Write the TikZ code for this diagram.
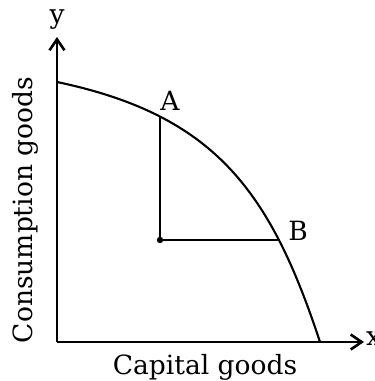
\documentclass[tikz,border=0pt]{standalone}
\usepackage{fontspec}
\setmainfont{DejaVu Serif}
\usetikzlibrary{arrows.meta}
\begin{document}
\begin{tikzpicture}[x=1pt,y=-1pt,
  axis/.style={line width=2.8pt,-{Straight Barb[length=11pt,width=15pt,line width=2.6pt]}},
  lbl/.style={font=\fontsize{26.5}{30}\selectfont, inner sep=0pt},
  ppf/.style={line width=2.1pt},
  guide/.style={line width=2pt}]
\useasboundingbox (0,0) rectangle (375,381);
\coordinate (O) at (57,342);
\coordinate (ytop) at (57,37);
\coordinate (xend) at (364,342);
\coordinate (P0) at (57,82);
\coordinate (P3) at (320,342);
\coordinate (A) at (160,117);
\coordinate (B) at (280,240);
\coordinate (C) at (160,240);
\draw[axis] (O) -- (ytop);
\draw[axis] (O) -- (xend);
\draw[ppf] (P0) .. controls (214,115) and (270,190) .. (P3);
\draw[guide] (A) |- (B);
\fill (C) circle (3.2pt);
\node[lbl] (ylab) at (57,20) {y};
\node[lbl, anchor=west] (xlab) at (366,339) {x};
\node[lbl] (Alab) at (170,101) {A};
\node[lbl] (Blab) at (298,231) {B};
\node[lbl] (cap) at (205,367) {Capital goods};
\node[lbl, rotate=90] (cons) at (25,210) {Consumption goods};
\end{tikzpicture}
\end{document}
